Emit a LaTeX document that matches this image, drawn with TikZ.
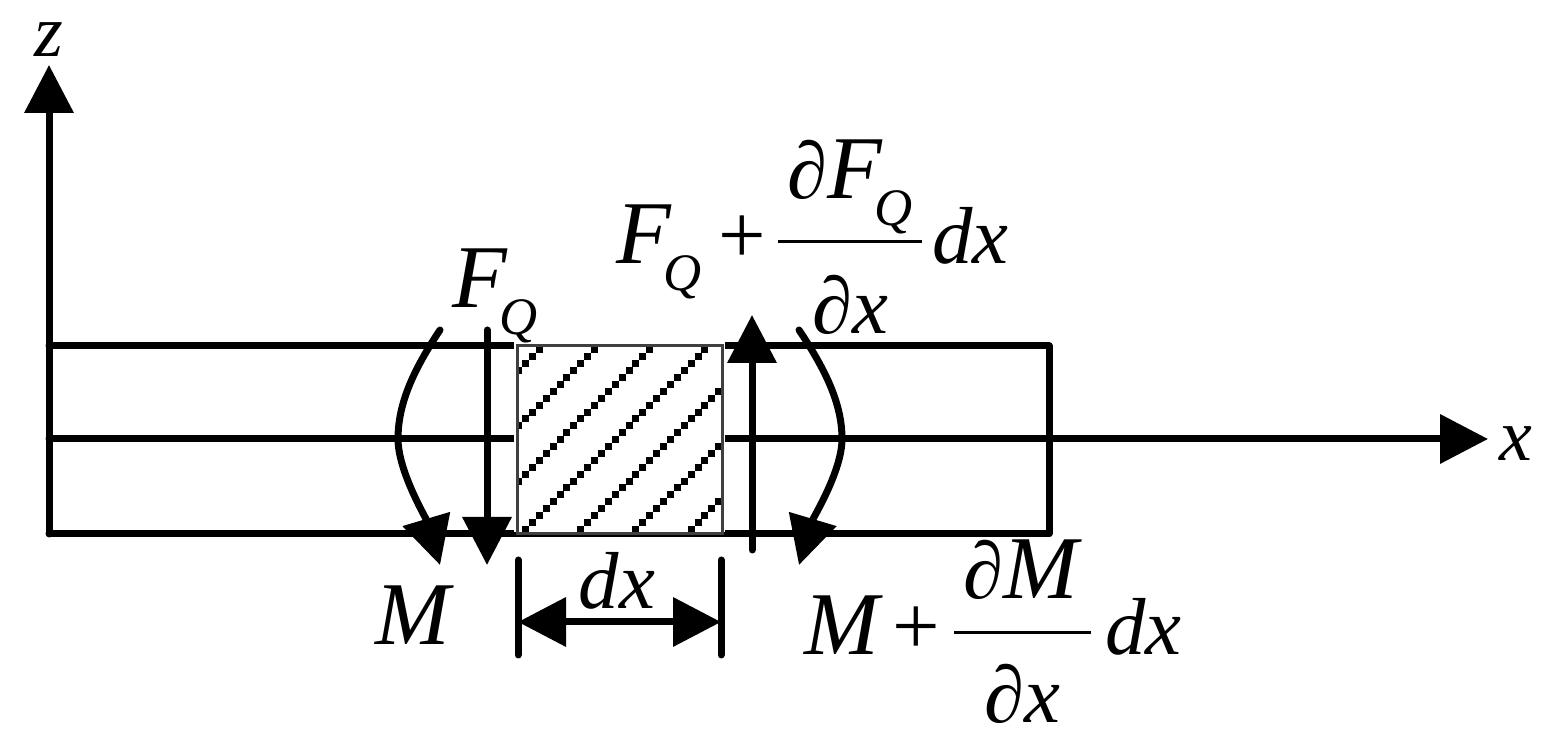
\documentclass[tikz,border=0pt]{standalone}
\usepackage{amsmath}
\usepackage{fontspec}
\setmainfont{Liberation Serif}
\usetikzlibrary{arrows.meta}
\newcommand{\axv}[1]{{\fontsize{21}{28}\selectfont\textit{#1}}}
\newcommand{\vv}[1]{{\fontsize{23}{28}\selectfont\textit{#1}}}
\newcommand{\capv}[1]{{\fontsize{25.5}{28}\selectfont\textit{#1}}}
\newcommand{\fqsub}{\kern-0.08cm\raisebox{-0.27cm}[0pt][0pt]{\fontsize{15}{15}\selectfont\textit{Q}}}
\newcommand{\plusv}{{\fontsize{24}{28}\selectfont\textrm{+}}}
\newcommand{\dfr}[4]{\genfrac{}{}{1.1pt}{0}{\raisebox{#1}[\height][0pt]{\kern0.09cm#2\kern0.09cm}}{\raisebox{#3}[\height][\depth]{#4}}}
\tikzset{
  beam/.style={line width=0.07cm, line cap=round, line join=round},
  force/.style={beam, -{Triangle[width=0.48cm,length=0.48cm]}},
  dimen/.style={beam, {Triangle[width=0.48cm,length=0.48cm]}-{Triangle[width=0.48cm,length=0.48cm]}},
  label/.style={inner sep=0pt, font=\fontsize{24}{28}\selectfont},
  hatchdot/.style={fill=black}
}
\begin{document}
\begin{tikzpicture}
  \useasboundingbox (0,0) rectangle (15.57,7.46);
  \coordinate (o) at (0.49,2.12);
  \coordinate (ztip) at (0.49,6.81);
  \coordinate (xstart) at (0.49,3.07);
  \coordinate (xtip) at (14.88,3.07);
  \coordinate (tl) at (0.49,4.00);
  \coordinate (tr) at (10.49,4.00);
  \coordinate (br) at (10.49,2.12);
  \draw[beam] (tl) -- (tr) -- (br) -- (o);
  \draw[force] (o) -- (ztip);
  \draw[force] (xstart) -- (xtip);
  % element
  \fill[white] (5.14,2.14) rectangle (7.25,4.04);
  \begin{scope}
    \clip (5.17,2.12) rectangle (7.22,4.00);
    \foreach \k in {0,...,6} {
      \foreach \j in {0,...,26} {
        \pgfmathsetmacro{\dx}{5.393+0.552*\k-0.069*\j}
        \pgfmathsetmacro{\dy}{3.96-0.069*\j}
        \fill[hatchdot] (\dx-0.035,\dy-0.035) rectangle (\dx+0.035,\dy+0.035);
      }
    }
  \end{scope}
  \node[draw=black!75, line width=0.03cm, minimum width=2.05cm, minimum height=1.88cm, outer sep=0pt] (elem) at (6.195,3.06) {};
  % forces
  \coordinate (fa) at (4.87,4.16);
  \coordinate (fb) at (4.87,1.81);
  \coordinate (ga) at (7.52,1.96);
  \coordinate (gb) at (7.52,4.31);
  \draw[force] (fa) -- (fb);
  \draw[force] (ga) -- (gb);
  % moments
  \coordinate (ma) at (4.40,4.16);
  \coordinate (mb) at (3.98,3.07);
  \coordinate (mc) at (4.40,1.81);
  \coordinate (na) at (7.99,4.16);
  \coordinate (nb) at (8.42,3.07);
  \coordinate (nc) at (7.99,1.81);
  \draw[force] (ma) .. controls (4.12,3.74) and (3.98,3.41) .. (mb)
    .. controls (3.98,2.75) and (4.26,2.28) .. (mc);
  \draw[force] (na) .. controls (8.27,3.74) and (8.42,3.41) .. (nb)
    .. controls (8.42,2.75) and (8.13,2.28) .. (nc);
  % dimension
  \coordinate (pa) at (5.18,1.86);
  \coordinate (pb) at (5.18,0.91);
  \coordinate (qa) at (7.21,1.86);
  \coordinate (qb) at (7.21,0.91);
  \coordinate (pm) at (5.18,1.24);
  \coordinate (qm) at (7.21,1.24);
  \draw[beam] (pa) -- (pb);
  \draw[beam] (qa) -- (qb);
  \draw[dimen] (pm) -- (qm);
  % labels
  \node[label] (zlab) at (0.49,7.06) {\axv{z}};
  \node[label] (xlab) at (15.16,3.02) {\axv{x}};
  \node[label] (fql) at (4.95,4.68) {\capv{F}\fqsub};
  \node[label] (mlab) at (4.15,1.31) {\capv{M}};
  \node[label] (dxlab) at (6.17,1.65) {\vv{dx}};
  \node[label] (fqr) at (8.125,5.06) {$\capv{F}\fqsub\kern0.17cm\plusv\kern0.08cm\dfr{0.06cm}{\vv{∂}\capv{F}\fqsub}{-0.10cm}{\vv{∂x}}\kern0.06cm\vv{dx}$};
  \node[label] (mr) at (9.93,1.16) {$\capv{M}\kern0.13cm\plusv\kern0.10cm\dfr{-0.03cm}{\vv{∂}\capv{M}}{-0.08cm}{\vv{∂x}}\kern0.1cm\vv{dx}$};
\end{tikzpicture}
\end{document}
